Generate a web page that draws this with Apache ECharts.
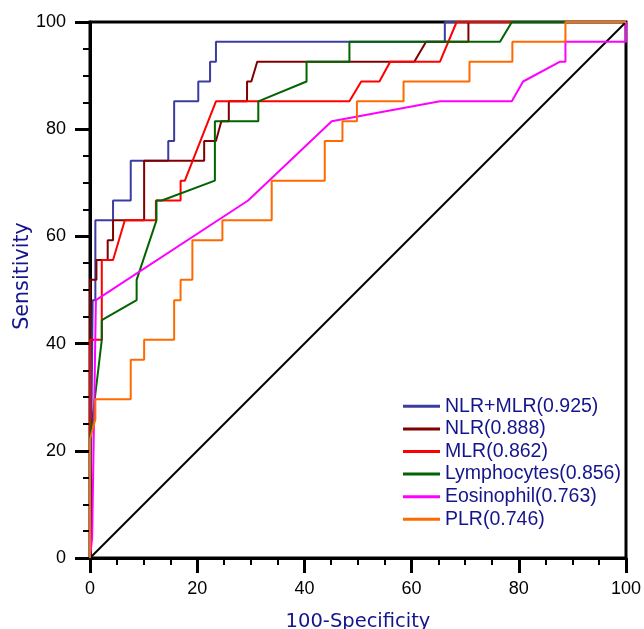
<!DOCTYPE html>
<html>
<head>
<meta charset="utf-8">
<script src="https://cdn.jsdelivr.net/npm/echarts@6/dist/echarts.min.js"></script>
<style>
html,body{margin:0;padding:0;background:#fff;}
#chart{width:644px;height:629px;}
</style>
</head>
<body>
<div id="chart"></div>
<script>
// ---- data (x = 100-Specificity, y = Sensitivity) ----
const seriesNames = ['NLR+MLR(0.925)', 'NLR(0.888)', 'MLR(0.862)', 'Lymphocytes(0.856)', 'Eosinophil(0.763)', 'PLR(0.746)'];
const axisTicks = [0, 20, 40, 60, 80, 100];
const referenceLine = [[0, 0], [100, 100]];

const nlrMlr = [[0,0],[0.5,48.1],[1.0,48.1],[1.0,63.0],[4.3,63.0],[4.3,66.7],[7.6,66.7],[7.6,74.1],[14.6,74.1],[14.6,77.8],[15.7,77.8],[15.7,85.2],[20.2,85.2],[20.2,88.9],[22.4,88.9],[22.4,92.6],[23.5,92.6],[23.5,96.3],[66.2,96.3],[66.2,100],[100,100]];
const nlr = [[0,0],[0,51.9],[1.2,51.9],[1.2,55.6],[3.3,55.6],[3.3,59.3],[4.3,59.3],[4.3,63.0],[10.1,63.0],[10.1,74.1],[21.3,74.1],[21.3,77.8],[23.5,77.8],[24.5,81.5],[25.9,81.5],[25.9,85.2],[29.3,85.2],[29.3,88.9],[30.1,88.9],[31.2,92.6],[60.5,92.6],[62.7,96.3],[70.6,96.3],[70.6,100],[100,100]];
const mlr = [[0,0],[0,40.7],[2.2,40.7],[2.2,55.6],[4.3,55.6],[6.5,63.0],[12.3,63.0],[12.3,66.7],[16.9,66.7],[16.9,70.4],[17.7,70.4],[23.5,85.2],[48.4,85.2],[50.6,88.9],[54.0,88.9],[56.0,92.6],[65.3,92.6],[68.4,100],[100,100]];
const lymphocytes = [[0,0],[0,22.2],[2.2,40.7],[2.2,44.4],[8.7,48.1],[8.7,51.9],[12.4,63.0],[12.4,66.7],[13.4,66.7],[23.3,70.4],[23.3,81.5],[31.4,81.5],[31.4,85.2],[40.4,88.9],[40.4,92.6],[48.4,92.6],[48.4,96.3],[76.5,96.3],[78.7,100],[100,100]];
const eosinophil = [[0,0],[0.4,3.7],[1.1,48.1],[29.5,66.7],[45.1,81.5],[65.3,85.2],[78.7,85.2],[80.8,88.9],[87.7,92.6],[88.7,92.6],[88.7,96.3],[100,96.3],[100,100]];
const plr = [[0,0],[0,22.2],[1.0,25.9],[1.0,29.6],[7.6,29.6],[7.6,37.0],[10.1,37.0],[10.1,40.7],[15.7,40.7],[15.7,48.1],[16.9,48.1],[16.9,51.9],[19.1,51.9],[19.1,59.3],[24.7,59.3],[24.7,63.0],[33.9,63.0],[33.9,70.4],[43.8,70.4],[43.8,77.8],[47.1,77.8],[47.1,81.5],[49.8,81.5],[49.8,85.2],[58.5,85.2],[58.5,88.9],[70.8,88.9],[70.8,92.6],[78.8,92.6],[78.8,96.3],[88.7,96.3],[88.7,100],[100,100]];

const curveData = [nlrMlr, nlr, mlr, lymphocytes, eosinophil, plr];
const colors = ['#3c3ca0', '#800000', '#ff0000', '#006400', '#ff00ff', '#ff6a00'];

const chart = echarts.init(document.getElementById('chart'), null, {renderer: 'canvas'});
const FONT = 'Liberation Sans, Arial, sans-serif';
const TITLE_FONT = 'DejaVu Sans, sans-serif';
const NAVY = '#14148c';

function axisCommon(name) {
  return {
    type: 'value', min: 0, max: 100, interval: 20,
    name: name, nameLocation: 'middle', nameMoveOverlap: false,
    nameTextStyle: {color: NAVY, fontSize: 19.5, fontFamily: TITLE_FONT},
    axisLine: {show: true, onZero: false, lineStyle: {color: '#000', width: 3}},
    axisTick: {show: true, inside: false, length: 15, lineStyle: {color: '#000', width: 3}},
    minorTick: {show: true, splitNumber: 4, length: 7, lineStyle: {color: '#000', width: 2}},
    splitLine: {show: false},
    axisLabel: {color: '#000', fontSize: 18, fontFamily: FONT,
      formatter: v => axisTicks.includes(v) ? String(v) : ''}
  };
}

const xAxis = axisCommon('100-Specificity');
xAxis.nameGap = 54;
xAxis.axisLabel.margin = 22;
const yAxis = axisCommon('Sensitivity');
yAxis.nameGap = 57;
yAxis.nameTextStyle.fontSize = 20.7;
yAxis.nameTextStyle.padding = [0, 0, 0, 28];
yAxis.axisLabel.margin = 24;

const series = [{
  type: 'line', name: 'ref', data: referenceLine, symbol: 'none', silent: true,
  lineStyle: {color: '#000', width: 2}, z: 1
}];
curveData.forEach((d, i) => {
  series.push({
    type: 'line', name: seriesNames[i], data: d, symbol: 'none', showSymbol: false,
    lineStyle: {color: colors[i], width: 2}, itemStyle: {color: colors[i]}, z: 2 + i
  });
});

chart.setOption({
  backgroundColor: '#fff',
  animation: false,
  grid: {left: 90, top: 22, width: 536, height: 536, containLabel: false, outerBoundsMode: 'none',
    show: true, borderColor: '#000', borderWidth: 3, backgroundColor: 'transparent'},
  xAxis: xAxis,
  yAxis: yAxis,
  legend: {
    data: seriesNames, orient: 'vertical', left: 398, top: 390,
    icon: 'rect', itemWidth: 37, itemHeight: 3, itemGap: 0,
    textStyle: {color: NAVY, fontSize: 19.5, fontFamily: FONT, lineHeight: 22.6},
    inactiveColor: '#ccc'
  },
  series: series
});
</script>
</body>
</html>
